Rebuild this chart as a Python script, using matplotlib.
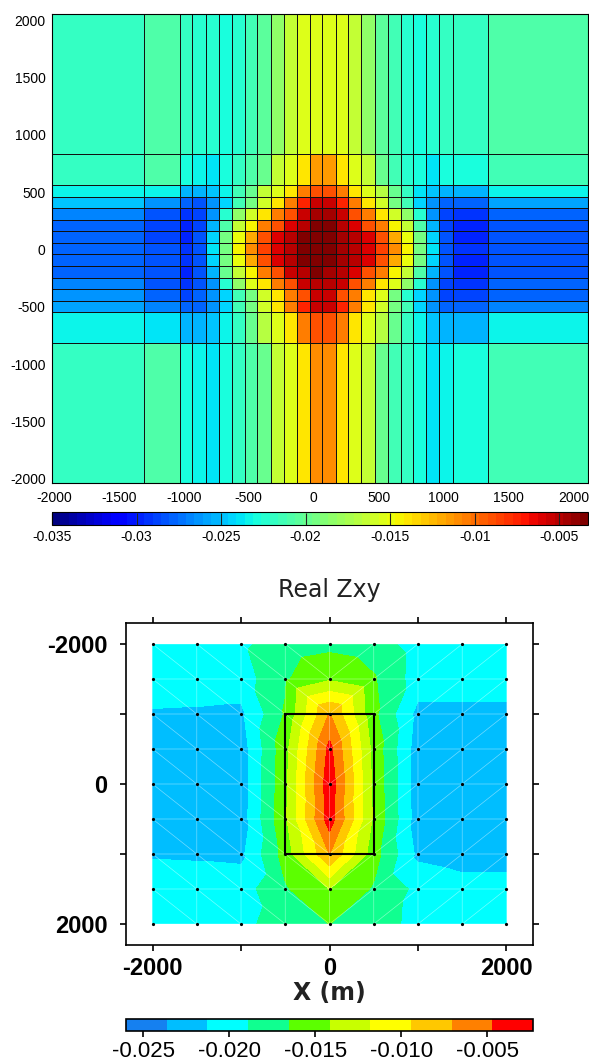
import numpy as np
import matplotlib
matplotlib.use("Agg")
import matplotlib.pyplot as plt
import matplotlib.tri as mtri
from matplotlib.colors import Normalize
from matplotlib.cm import ScalarMappable
from matplotlib.patches import Rectangle

plt.rcParams["axes.unicode_minus"] = False

# ---------------- top panel: model mesh (values in units of 1e-3) ----------------
mesh_x_edges = [-2014, -1304, -1032, -937, -827, -729, -629, -532, -435, -332, -229, -129, -27,
                68, 171, 268, 367, 473, 571, 671, 768, 865, 965, 1073, 1340, 2112]
mesh_y_edges = [2054, 834, 562, 460, 359, 260, 159, 59, -42, -144, -246, -347, -446, -547, -817, -2037]

mesh_rows_milli = [
    [-22.0, -21.0, -22.0, -22.6, -22.5, -22.8, -22.6, -21.6, -20.3, -18.4, -16.6, -15.6, -15.3, -15.3, -15.6, -16.3, -18.6, -20.5, -21.6, -22.6, -22.9, -22.6, -22.0, -21.8, -20.7],
    [-22.0, -21.0, -23.1, -23.4, -23.7, -23.1, -22.0, -21.0, -19.8, -16.6, -15.2, -13.8, -11.4, -11.4, -13.8, -15.2, -16.6, -19.8, -21.6, -22.4, -23.1, -23.7, -23.1, -23.1, -21.6],
    [-23.6, -23.4, -25.5, -25.5, -24.8, -23.6, -21.6, -19.8, -16.6, -15.4, -13.8, -10.3, -9.0, -9.0, -10.5, -13.8, -15.4, -17.0, -20.1, -22.0, -23.7, -24.8, -25.5, -25.5, -23.6],
    [-25.0, -26.4, -27.7, -28.1, -26.4, -24.3, -21.6, -19.2, -16.0, -14.1, -10.3, -7.3, -5.5, -5.5, -7.3, -10.3, -14.1, -16.0, -19.2, -21.6, -24.3, -26.4, -27.7, -27.7, -26.0],
    [-26.9, -28.1, -29.1, -28.6, -26.4, -22.6, -18.6, -16.0, -14.1, -10.7, -9.0, -5.5, -4.3, -4.3, -5.5, -9.0, -10.7, -14.1, -16.0, -18.6, -22.6, -26.4, -28.6, -29.1, -27.7],
    [-27.7, -28.6, -29.6, -28.6, -25.5, -21.0, -16.3, -14.6, -10.7, -9.0, -5.8, -4.8, -3.5, -3.5, -4.8, -5.8, -9.0, -10.7, -14.6, -16.3, -21.0, -25.5, -28.6, -29.6, -28.1],
    [-27.7, -28.6, -29.6, -28.1, -24.3, -19.2, -14.9, -12.0, -9.0, -5.8, -4.8, -3.5, -3.3, -3.3, -4.3, -4.8, -5.8, -9.0, -12.0, -14.9, -19.2, -24.3, -28.1, -29.6, -28.1],
    [-27.7, -28.1, -29.1, -28.1, -23.7, -19.2, -14.6, -11.2, -8.5, -5.8, -4.8, -3.5, -3.3, -3.3, -4.3, -4.8, -5.8, -8.5, -11.2, -14.6, -19.2, -23.7, -28.1, -29.1, -28.1],
    [-27.7, -28.1, -29.1, -28.1, -24.3, -19.2, -14.9, -12.0, -9.0, -5.8, -4.8, -3.5, -3.5, -3.5, -4.3, -4.8, -5.8, -9.0, -12.0, -14.9, -19.2, -24.3, -28.1, -29.6, -28.1],
    [-27.7, -28.1, -29.6, -28.1, -25.5, -20.1, -16.3, -14.6, -10.7, -9.0, -5.5, -4.8, -3.5, -4.3, -4.8, -5.8, -9.0, -10.7, -14.6, -16.3, -21.0, -25.5, -28.1, -29.6, -28.1],
    [-26.9, -28.1, -29.1, -28.1, -26.4, -22.6, -18.6, -15.6, -13.8, -10.7, -9.0, -5.5, -4.8, -4.8, -5.5, -9.0, -10.7, -14.1, -15.6, -18.6, -22.6, -26.4, -28.6, -29.1, -27.7],
    [-26.4, -27.7, -28.6, -27.7, -26.4, -24.3, -21.6, -19.2, -16.0, -14.1, -10.7, -9.0, -5.5, -5.5, -9.0, -10.7, -14.1, -15.6, -19.2, -22.6, -24.3, -26.4, -28.6, -28.6, -27.7],
    [-26.0, -26.9, -27.7, -27.7, -26.4, -24.3, -21.6, -19.2, -16.0, -13.8, -10.3, -7.3, -5.5, -5.5, -7.3, -10.3, -13.8, -16.0, -19.2, -21.6, -24.3, -26.4, -27.7, -27.7, -26.9],
    [-23.6, -23.7, -25.5, -25.5, -24.8, -23.4, -22.0, -19.8, -17.0, -15.4, -13.8, -10.3, -9.0, -9.0, -10.5, -13.8, -15.4, -17.0, -20.1, -22.0, -23.4, -24.8, -25.5, -25.5, -23.6],
    [-22.0, -21.0, -23.1, -23.6, -23.7, -23.1, -22.0, -21.0, -19.8, -16.6, -15.2, -13.8, -11.2, -11.2, -13.8, -15.2, -16.6, -19.8, -21.6, -22.0, -23.1, -23.7, -23.4, -23.1, -21.6],
]

top_vmin, top_vmax = -0.035, -0.0033
top_cbar_ticks = [-0.035, -0.03, -0.025, -0.02, -0.015, -0.01, -0.005]
top_cbar_labels = ["-0.035", "-0.03", "-0.025", "-0.02", "-0.015", "-0.01", "-0.005"]
top_axis_ticks = [-2000, -1500, -1000, -500, 0, 500, 1000, 1500, 2000]

# ---------------- bottom panel: Real Zxy stations (values in units of 1e-3) ----------------
station_x = [-2000, -1500, -1000, -500, 0, 500, 1000, 1500, 2000]
station_y = [-2000, -1500, -1000, -500, 0, 500, 1000, 1500, 2000]
zxy_rows_milli = [
    [-20.0, -20.2, -19.3, -17.8, -17.2, -17.8, -19.9, -20.3, -20.0],
    [-20.0, -20.0, -20.1, -16.8, -14.5, -16.3, -20.0, -20.0, -20.0],
    [-21.5, -21.6, -21.8, -16.3, -6.9, -16.0, -22.0, -22.0, -22.0],
    [-22.5, -22.6, -22.5, -15.0, -4.0, -15.0, -22.5, -22.7, -22.5],
    [-22.5, -22.6, -22.6, -14.8, -3.2, -14.8, -22.6, -22.7, -22.5],
    [-22.4, -22.5, -22.5, -14.5, -3.4, -14.5, -22.5, -22.7, -22.5],
    [-21.5, -21.6, -21.8, -15.5, -7.0, -15.5, -21.8, -22.4, -22.4],
    [-20.0, -20.0, -20.0, -16.8, -14.1, -16.8, -19.5, -20.3, -20.3],
    [-20.0, -20.0, -19.5, -17.8, -16.5, -17.8, -19.6, -20.0, -20.0],
]
level_low, level_high, n_bands = -0.0260, -0.00233, 10
band_colors = ["#1580F0", "#00BEFF", "#00FFFF", "#10FF90", "#5CFF00",
               "#C8FF00", "#FFFF00", "#FFC800", "#FF8000", "#FF0000"]
body_x = [-500, 500]
body_y = [-1000, 1000]
bottom_axis_ticks = [-2000, -1000, 0, 1000, 2000]
bottom_axis_labels = ["-2000", "", "0", "", "2000"]
bottom_cbar_ticks = [-0.025, -0.020, -0.015, -0.010, -0.005]
bottom_cbar_labels = ["-0.025", "-0.020", "-0.015", "-0.010", "-0.005"]

W, H = 589, 1061
fig = plt.figure(figsize=(W / 100, H / 100), dpi=100)

def box(x0, y0, x1, y1):
    return [x0 / W, 1 - y1 / H, (x1 - x0) / W, (y1 - y0) / H]

# ---- top mesh ----
ax1 = fig.add_axes(box(52, 14, 588, 483))
cmap64 = plt.get_cmap("jet", 64)
C = np.array(mesh_rows_milli) * 1e-3
ax1.pcolormesh(np.array(mesh_x_edges), np.array(mesh_y_edges), C, cmap=cmap64,
               vmin=top_vmin, vmax=top_vmax, edgecolors="#111111", linewidth=0.5)
ax1.set_xlim(mesh_x_edges[0], mesh_x_edges[-1])
ax1.set_ylim(mesh_y_edges[-1], mesh_y_edges[0])
ax1.set_xticks(top_axis_ticks)
ax1.set_yticks(top_axis_ticks)
ax1.set_xticklabels([str(t) for t in top_axis_ticks])
ax1.set_yticklabels([str(t) for t in top_axis_ticks])
ax1.tick_params(length=0, labelsize=10)
ax1.tick_params(axis="x", pad=6)
ax1.tick_params(axis="y", pad=4.5)
for lab in ax1.get_xticklabels() + ax1.get_yticklabels():
    lab.set_fontfamily("Liberation Sans")
for s in ax1.spines.values():
    s.set_linewidth(0.8)

cax1 = fig.add_axes(box(52, 512, 588, 524.5))
sm = ScalarMappable(norm=Normalize(top_vmin, top_vmax), cmap=cmap64)
cb1 = fig.colorbar(sm, cax=cax1, orientation="horizontal")
cb1.set_ticks(top_cbar_ticks)
cb1.set_ticklabels(top_cbar_labels)
cb1.outline.set_linewidth(0.8)
cax1.tick_params(direction="in", length=9, width=0.8, color="#222222", labelsize=10, pad=4)
for lab in cax1.get_xticklabels():
    lab.set_fontfamily("Liberation Sans")

# ---- bottom contour ----
ax2 = fig.add_axes(box(126, 623, 533, 945))
gx, gy = np.meshgrid(np.array(station_x, float), np.array(station_y, float))
nx, ny = len(station_x), len(station_y)
tris = []
for j in range(ny - 1):
    for i in range(nx - 1):
        a = j * nx + i
        b = a + 1
        c = a + nx
        d = c + 1
        if i < (nx - 1) // 2:
            tris += [[a, b, d], [a, d, c]]
        else:
            tris += [[a, b, c], [b, d, c]]
tri = mtri.Triangulation(gx.ravel(), gy.ravel(), np.array(tris))
Z = np.array(zxy_rows_milli).ravel() * 1e-3
levels = np.linspace(level_low, level_high, n_bands + 1)
cs = ax2.tricontourf(tri, Z, levels=levels, colors=band_colors)
ax2.triplot(tri, color="white", lw=0.5, alpha=0.45)
ax2.plot(gx.ravel(), gy.ravel(), "o", ms=2.3, color="black", mec="none")
ax2.add_patch(Rectangle((body_x[0], body_y[0]), body_x[1] - body_x[0], body_y[1] - body_y[0],
                        fill=False, ec="black", lw=1.5, zorder=5))
ax2.set_xlim(-2300, 2300)
ax2.set_ylim(2300, -2300)
ax2.set_xticks(bottom_axis_ticks)
ax2.set_yticks(bottom_axis_ticks)
ax2.set_xticklabels(bottom_axis_labels)
ax2.set_yticklabels(bottom_axis_labels)
ax2.tick_params(direction="out", length=4.5, width=1.2, top=True, right=True, labelsize=17)
ax2.tick_params(axis="x", pad=4)
ax2.tick_params(axis="y", pad=9)
for lab in ax2.get_xticklabels() + ax2.get_yticklabels():
    lab.set_fontfamily("Liberation Sans")
    lab.set_fontweight("bold")
for s in ax2.spines.values():
    s.set_linewidth(1.2)

fig.text(329 / W, 1 - 590 / H, "Real Zxy", ha="center", va="center", fontsize=17,
         family="DejaVu Sans", color="#222222")
fig.text(329 / W, 1 - 993 / H, "X (m)", ha="center", va="center", fontsize=17,
         family="DejaVu Sans", fontweight="bold", color="#222222")

cax2 = fig.add_axes(box(126, 1019, 533, 1031))
cb2 = fig.colorbar(cs, cax=cax2, orientation="horizontal")
cb2.set_ticks(bottom_cbar_ticks)
cb2.set_ticklabels(bottom_cbar_labels)
cb2.outline.set_linewidth(1.2)
cax2.tick_params(direction="out", length=4.5, width=1.2, labelsize=16, pad=3)
for lab in cax2.get_xticklabels():
    lab.set_fontfamily("Liberation Sans")

fig.savefig("out.png", dpi=100)
